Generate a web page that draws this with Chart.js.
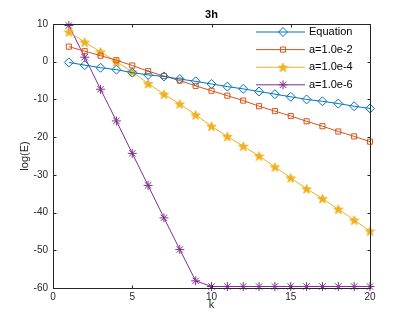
<!DOCTYPE html>
<html>
<head>
<meta charset="utf-8">
<script src="https://cdn.jsdelivr.net/npm/chart.js@4/dist/chart.umd.min.js"></script>
<style>
html,body{margin:0;padding:0;background:#fff;}
#wrap{width:409px;height:324px;position:relative;}
</style>
</head>
<body>
<div id="wrap"><canvas id="c" width="409" height="324"></canvas></div>
<script>
// ---- data ----
const kValues = [1,2,3,4,5,6,7,8,9,10,11,12,13,14,15,16,17,18,19,20];
const seriesNames = ['Equation','a=1.0e-2','a=1.0e-4','a=1.0e-6'];
const equationVals = [-0.2,-0.9,-1.6,-2.1,-2.9,-3.5,-3.9,-4.6,-5.2,-5.9,-6.6,-7.2,-7.9,-8.6,-9.3,-10.0,-10.5,-11.1,-11.8,-12.4];
const a1e2Vals = [4.0,2.8,1.6,0.4,-1.0,-2.5,-3.8,-5.0,-6.4,-7.7,-9.0,-10.3,-11.8,-13.1,-14.4,-15.8,-17.1,-18.5,-19.8,-21.2];
const a1e4Vals = [7.9,5.2,2.6,0.0,-2.7,-5.8,-8.6,-11.2,-14.1,-17.1,-19.8,-22.4,-25.0,-27.9,-30.8,-33.7,-36.3,-39.1,-42.0,-44.9];
const a1e6Vals = [9.6,1.2,-7.3,-15.7,-24.3,-32.8,-41.4,-49.8,-58.1,-59.6,-59.6,-59.6,-59.6,-59.6,-59.6,-59.6,-59.6,-59.6,-59.6,-59.6];
const xTicks = [0,5,10,15,20];
const yTicks = [-60,-50,-40,-30,-20,-10,0,10];
const titleText = '3h';
const xLabel = 'k';
const yLabel = 'log(E)';

// ---- style ----
const colors = ['#0072BD','#D95319','#EDB120','#7E2F8E'];
const axisColor = '#262626';
const fontFam = '"Liberation Sans", Arial, Helvetica, sans-serif';

function makePentagram(color, size){
  const cv = document.createElement('canvas');
  cv.width = size; cv.height = size;
  const g = cv.getContext('2d');
  const cx = size/2, cy = size/2 + 0.5, R = size/2 - 0.5, r = R*0.42;
  g.beginPath();
  for(let i=0;i<10;i++){
    const ang = -Math.PI/2 + i*Math.PI/5;
    const rad = (i%2===0)?R:r;
    const x = cx + rad*Math.cos(ang), y = cy + rad*Math.sin(ang);
    if(i===0) g.moveTo(x,y); else g.lineTo(x,y);
  }
  g.closePath();
  g.fillStyle = color; g.fill();
  g.strokeStyle = color; g.lineWidth = 0.8; g.stroke();
  return cv;
}
const starImg = makePentagram(colors[2], 11);

function toXY(vals){ return kValues.map((k,i)=>({x:k,y:vals[i]})); }

const datasets = [
  {label:seriesNames[0], data:toXY(equationVals), borderColor:colors[0], backgroundColor:'rgba(0,0,0,0)', pointStyle:'rectRot', pointRadius:4.5, pointBorderWidth:1, borderWidth:1},
  {label:seriesNames[1], data:toXY(a1e2Vals), borderColor:colors[1], backgroundColor:'rgba(0,0,0,0)', pointStyle:'rect', pointRadius:3.6, pointBorderWidth:1, borderWidth:1},
  {label:seriesNames[2], data:toXY(a1e4Vals), borderColor:colors[2], backgroundColor:colors[2], pointStyle:starImg, pointRadius:5.5, pointBorderWidth:1, borderWidth:1},
  {label:seriesNames[3], data:toXY(a1e6Vals), borderColor:colors[3], backgroundColor:colors[3], pointStyle:'star', pointRadius:4.5, pointBorderWidth:1, borderWidth:1}
];
datasets.forEach(d=>{ d.clip = false; d.tension = 0; d.fill = false; d.pointBackgroundColor = d.backgroundColor; d.pointBorderColor = d.borderColor; });

const framePlugin = {
  id:'frame',
  afterDraw(chart){
    const ctx = chart.ctx, a = chart.chartArea;
    const xs = chart.scales.x, ys = chart.scales.y;
    ctx.save();
    ctx.strokeStyle = axisColor; ctx.lineWidth = 1;
    const L = Math.round(a.left)+0.5, R = Math.round(a.right)+0.5, T = Math.round(a.top)+0.5, B = Math.round(a.bottom)+0.5;
    ctx.strokeRect(L, T, R-L, B-T);
    const tl = 3;
    ctx.beginPath();
    xTicks.forEach(v=>{
      const px = Math.round(xs.getPixelForValue(v))+0.5;
      ctx.moveTo(px,B); ctx.lineTo(px,B-tl);
      ctx.moveTo(px,T); ctx.lineTo(px,T+tl);
    });
    yTicks.forEach(v=>{
      const py = Math.round(ys.getPixelForValue(v))+0.5;
      ctx.moveTo(L,py); ctx.lineTo(L+tl,py);
      ctx.moveTo(R,py); ctx.lineTo(R-tl,py);
    });
    ctx.stroke();
    // title
    ctx.fillStyle = '#000';
    ctx.font = 'bold 11px ' + fontFam;
    ctx.textAlign = 'center'; ctx.textBaseline = 'middle';
    ctx.fillText(titleText, (a.left+a.right)/2, 15);
    // legend
    const rowY = [32, 49.6, 67.2, 84.8];
    const x0 = 256, x1 = 305, xm = 283, xt = 309;
    chart.data.datasets.forEach((ds,i)=>{
      const y = rowY[i];
      ctx.strokeStyle = ds.borderColor; ctx.lineWidth = 1;
      ctx.beginPath(); ctx.moveTo(x0,y); ctx.lineTo(x1,y); ctx.stroke();
      ctx.fillStyle = ds.pointBackgroundColor;
      ctx.strokeStyle = ds.borderColor;
      Chart.helpers.drawPoint(ctx, {pointStyle:ds.pointStyle, radius:ds.pointRadius, rotation:0, borderWidth:ds.pointBorderWidth}, xm, y);
      ctx.fillStyle = '#000';
      ctx.font = '11px ' + fontFam;
      ctx.textAlign = 'left'; ctx.textBaseline = 'middle';
      ctx.fillText(ds.label, xt, y);
    });
    ctx.restore();
  }
};

new Chart(document.getElementById('c'), {
  type:'line',
  data:{datasets:datasets},
  options:{
    responsive:false,
    animation:false,
    devicePixelRatio:1,
    layout:{padding:{left:0,right:39,top:24,bottom:0}},
    plugins:{legend:{display:false}, title:{display:false}, tooltip:{enabled:false}},
    scales:{
      x:{
        type:'linear', min:0, max:20,
        afterBuildTicks(s){ s.ticks = xTicks.map(v=>({value:v})); },
        afterFit(s){ s.height = 36; },
        grid:{display:false, drawTicks:false}, border:{display:false},
        ticks:{color:axisColor, font:{family:fontFam,size:10}, padding:3, maxRotation:0},
        title:{display:true, text:xLabel, color:axisColor, font:{family:fontFam,size:11}, padding:{top:0,bottom:12}}
      },
      y:{
        type:'linear', min:-60, max:10,
        afterBuildTicks(s){ s.ticks = yTicks.map(v=>({value:v})); },
        afterFit(s){ s.width = 53; },
        grid:{display:false, drawTicks:false}, border:{display:false},
        ticks:{color:axisColor, font:{family:fontFam,size:10}, padding:5},
        title:{display:true, text:yLabel, color:axisColor, font:{family:fontFam,size:11}, padding:{top:18,bottom:0}}
      }
    }
  },
  plugins:[framePlugin]
});
</script>
</body>
</html>
